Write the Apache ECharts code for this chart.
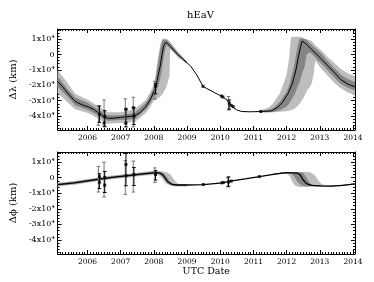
<!DOCTYPE html>
<html><head><meta charset="utf-8">
<script src="https://cdn.jsdelivr.net/npm/echarts@6/dist/echarts.min.js"></script>
<style>html,body{margin:0;padding:0;background:#fff}#c{width:374px;height:282px}</style>
</head><body><div id="c"></div>
<script>
// ---- axis ticks / labels ----
const yearTicks = [2006, 2007, 2008, 2009, 2010, 2011, 2012, 2013, 2014];
const yTicks = [-4, -3, -2, -1, 0, 1];          // units of 10^4 km
const X_MIN = 2005.1, X_MAX = 2014.06;
const Y_MIN = -4.9, Y_MAX = 1.65;

// ---- top panel (Δλ, 10^4 km) : central curve ----
const topLineX = [2005.10,2005.25,2005.40,2005.63,2005.85,2006.02,2006.20,2006.31,2006.45,2006.60,2006.80,2007.00,2007.20,2007.42,2007.60,2007.76,2007.90,2008.05,2008.19,2008.29,2008.37,2008.50,2008.72,2008.90,2009.11,2009.30,2009.48,2009.80,2010.06,2010.20,2010.35,2010.50,2010.64,2010.90,2011.22,2011.40,2011.55,2011.75,2011.89,2012.05,2012.18,2012.28,2012.36,2012.42,2012.47,2012.60,2012.86,2013.05,2013.25,2013.45,2013.63,2013.85,2014.06];
const topLineY = [-1.75,-2.10,-2.50,-3.05,-3.28,-3.40,-3.58,-3.77,-3.98,-4.14,-4.13,-4.08,-4.03,-3.99,-3.75,-3.38,-2.90,-2.18,-0.76,0.54,0.80,0.52,0.00,-0.35,-0.76,-1.35,-2.07,-2.45,-2.73,-2.95,-3.38,-3.60,-3.70,-3.72,-3.70,-3.68,-3.66,-3.40,-3.05,-2.50,-1.85,-1.00,-0.10,0.50,0.87,0.65,0.10,-0.30,-0.76,-1.20,-1.63,-1.93,-2.10];

// ---- top panel bands, segment A (2005-2009) ----
const topBandAX   = [2005.10,2005.40,2005.63,2006.02,2006.31,2006.60,2007.00,2007.42,2007.76,2007.90,2008.00,2008.05,2008.12,2008.19,2008.25,2008.29,2008.33,2008.37,2008.40,2008.45,2008.47,2008.49,2008.55,2008.72,2009.00];
const topLightHiA = [-1.00,-1.85,-2.55,-2.95,-3.35,-3.75,-3.75,-3.55,-2.95,-2.40,-1.90,-1.40,-0.30,0.60,1.00,1.02,1.02,1.02,0.98,0.90,0.85,0.82,0.65,0.20,-0.45];
const topLightLoA = [-2.50,-3.10,-3.55,-3.80,-4.15,-4.50,-4.45,-4.40,-3.80,-3.35,-3.00,-2.95,-2.85,-2.75,-2.60,-2.45,-2.30,-2.15,-1.95,-1.55,-1.40,0.30,0.25,-0.20,-0.60];
const topDarkHiA  = [-1.40,-2.25,-2.80,-3.15,-3.55,-3.95,-3.95,-3.78,-3.15,-2.65,-2.15,-1.60,-0.60,0.30,0.85,0.95,0.95,0.95,0.92,0.80,0.76,0.72,0.55,0.10,-0.47];
const topDarkLoA  = [-2.10,-2.75,-3.30,-3.60,-3.95,-4.30,-4.25,-4.20,-3.55,-3.15,-2.75,-2.60,-2.10,-1.60,-0.90,-0.30,0.20,0.55,0.60,0.45,0.43,0.40,0.25,-0.10,-0.57];

// ---- top panel bands, segment B (2011-2014) ----
const topBandBX   = [2011.20,2011.45,2011.60,2011.80,2011.99,2012.07,2012.13,2012.20,2012.25,2012.33,2012.39,2012.47,2012.55,2012.60,2012.70,2012.76,2012.82,2012.86,2013.05,2013.25,2013.44,2013.63,2013.83,2014.06];
const topLightHiB = [-3.62,-3.45,-3.15,-2.50,-1.40,-0.35,1.10,1.15,1.15,1.15,1.15,1.10,1.02,0.98,0.92,0.87,0.70,0.60,0.25,-0.20,-0.55,-0.95,-1.20,-1.42];
const topLightLoB = [-3.78,-3.78,-3.75,-3.72,-3.68,-3.65,-3.62,-3.55,-3.50,-3.35,-3.20,-2.95,-2.65,-2.40,-2.10,-1.85,-1.20,-0.40,-0.95,-1.40,-1.85,-2.20,-2.45,-2.65];
const topDarkHiB  = [-3.66,-3.58,-3.45,-3.05,-2.45,-2.05,-1.55,-0.95,-0.45,0.55,1.00,1.05,1.00,0.95,0.75,0.62,0.50,0.42,0.05,-0.45,-0.90,-1.30,-1.58,-1.78];
const topDarkLoB  = [-3.74,-3.74,-3.72,-3.62,-3.40,-3.20,-3.00,-2.75,-2.55,-2.10,-1.80,-1.20,-0.75,0.00,0.15,0.05,-0.10,-0.20,-0.60,-1.05,-1.50,-1.90,-2.15,-2.35];

// ---- top panel measurements: [year, value, low, high] ----
const topBarsGray  = [[2006.33,-3.90,-4.60,-3.33],[2006.50,-3.90,-4.65,-2.95],[2007.14,-3.60,-4.50,-2.88],[2007.38,-3.46,-4.70,-2.78],[2008.03,-2.20,-2.90,-1.75],[2010.25,-3.16,-3.60,-2.73]];
const topBarsBlack = [[2006.36,-3.88,-4.40,-3.35],[2006.52,-4.10,-4.69,-3.65],[2007.16,-4.40,-4.70,-3.55],[2007.40,-3.99,-4.55,-3.45],[2008.05,-2.07,-2.55,-1.90],[2010.27,-3.30,-3.55,-2.95]];
const topPointsX = [2006.36,2006.52,2006.50,2007.16,2007.16,2007.40,2007.38,2008.05,2009.48,2010.04,2010.08,2010.27,2010.33,2010.39,2011.22];
const topPointsY = [-3.88,-4.03,-4.45,-3.55,-4.45,-3.99,-3.46,-2.07,-2.07,-2.70,-2.76,-3.16,-3.30,-3.38,-3.70];

// ---- bottom panel (Δϕ, 10^4 km) : central curve ----
const botLineX = [2005.10,2005.60,2006.00,2006.36,2006.80,2007.16,2007.60,2008.05,2008.18,2008.27,2008.35,2008.43,2008.55,2008.70,2009.00,2009.49,2010.07,2010.30,2010.80,2011.18,2011.60,2012.00,2012.34,2012.42,2012.50,2012.60,2012.75,2013.00,2013.35,2013.70,2014.06];
const botLineY = [-0.44,-0.33,-0.20,-0.09,0.04,0.12,0.23,0.33,0.30,0.18,-0.05,-0.28,-0.43,-0.47,-0.47,-0.44,-0.33,-0.22,-0.06,0.07,0.22,0.32,0.29,0.15,-0.15,-0.38,-0.49,-0.53,-0.54,-0.49,-0.40];

// ---- bottom panel bands, segment A ----
const botBandAX   = [2005.10,2005.60,2006.00,2006.36,2006.80,2007.16,2007.60,2008.05,2008.18,2008.27,2008.35,2008.43,2008.50,2008.55,2008.65,2008.72,2008.80,2009.00];
const botLightHiA = [-0.32,-0.21,-0.08,0.03,0.16,0.24,0.35,0.45,0.43,0.40,0.36,0.30,0.20,0.05,-0.25,-0.38,-0.42,-0.42];
const botLightLoA = [-0.56,-0.45,-0.32,-0.21,-0.08,0.00,0.11,0.21,0.12,-0.10,-0.35,-0.45,-0.50,-0.54,-0.56,-0.57,-0.57,-0.57];
const botDarkHiA  = [-0.37,-0.26,-0.13,-0.02,0.11,0.19,0.30,0.40,0.37,0.30,0.15,-0.10,-0.28,-0.36,-0.41,-0.42,-0.42,-0.42];
const botDarkLoA  = [-0.51,-0.40,-0.27,-0.16,-0.03,0.05,0.16,0.26,0.22,0.05,-0.22,-0.38,-0.45,-0.50,-0.52,-0.52,-0.52,-0.52];

// ---- bottom panel bands, segment B ----
const botBandBX   = [2011.80,2012.00,2012.10,2012.18,2012.25,2012.34,2012.42,2012.50,2012.55,2012.60,2012.70,2012.75,2012.85,2012.95,2013.05,2013.15,2013.35,2014.06];
const botLightHiB = [0.34,0.37,0.37,0.37,0.37,0.37,0.37,0.37,0.37,0.37,0.35,0.32,0.15,-0.15,-0.40,-0.48,-0.50,-0.37];
const botLightLoB = [0.24,0.27,0.10,-0.30,-0.50,-0.58,-0.60,-0.60,-0.60,-0.60,-0.58,-0.57,-0.57,-0.57,-0.57,-0.57,-0.58,-0.44];
const botDarkHiB  = [0.32,0.35,0.35,0.35,0.35,0.35,0.35,0.30,0.15,0.00,-0.35,-0.42,-0.47,-0.49,-0.50,-0.51,-0.52,-0.38];
const botDarkLoB  = [0.26,0.29,0.28,0.20,0.00,-0.30,-0.45,-0.52,-0.54,-0.55,-0.55,-0.55,-0.55,-0.55,-0.56,-0.56,-0.56,-0.42];

// ---- bottom panel measurements: [year, value, low, high] ----
const botBarsGray  = [[2006.33,0.07,-0.92,0.72],[2006.50,0.02,-1.24,1.00],[2007.14,0.13,-1.07,1.10],[2007.38,0.15,-0.92,1.07],[2008.03,0.20,-0.30,0.63],[2010.23,-0.30,-0.59,0.00]];
const botBarsBlack = [[2006.36,-0.30,-0.70,0.25],[2006.52,-0.48,-0.95,0.40],[2007.16,0.85,-0.52,1.55],[2007.40,0.10,-0.50,0.65],[2008.05,0.20,-0.15,0.45],[2010.25,-0.25,-0.55,0.05]];
const botPointsX = [2006.36,2006.36,2006.52,2006.52,2007.16,2007.16,2007.40,2008.05,2009.49,2010.05,2010.09,2010.25,2010.33,2011.18];
const botPointsY = [0.07,-0.30,0.02,-0.48,0.85,0.13,0.20,0.20,-0.44,-0.33,-0.31,-0.28,-0.22,0.07];

// ================= rendering =================
const FONT = 'DejaVu Serif';
const LIGHT = '#bdbdbd', DARK = '#858585';
const minorX = []; for (let y = 2005; y < 2015; y++) for (let m = 1; m < 12; m++) { const v = y + m / 12; if (v > X_MIN && v < X_MAX) minorX.push(v); }
const minorY = []; for (let v = -48; v <= 16; v += 2) if (v % 10 !== 0) minorY.push(v / 10);

function xAxesFor(gi, name) {
  const base = { type: 'value', gridIndex: gi, min: X_MIN, max: X_MAX, splitLine: { show: false } };
  return [
    Object.assign({}, base, { position: 'bottom',
      axisLine: { show: true, onZero: false, lineStyle: { color: '#000', width: 1 } },
      axisTick: { show: true, inside: true, length: 4, customValues: yearTicks, lineStyle: { color: '#000' } },
      axisLabel: { show: true, customValues: yearTicks, formatter: v => String(Math.round(v)), fontSize: 7.5, fontFamily: FONT, color: '#000', margin: 4 },
      name: name, nameLocation: 'middle', nameGap: 12, nameTextStyle: { fontSize: 9.5, fontFamily: FONT, color: '#000' } }),
    Object.assign({}, base, { position: 'top',
      axisLine: { show: true, onZero: false, lineStyle: { color: '#000', width: 1 } },
      axisTick: { show: true, inside: true, length: 4, customValues: yearTicks, lineStyle: { color: '#000' } },
      axisLabel: { show: false } }),
    Object.assign({}, base, { position: 'bottom', axisLine: { show: false, onZero: false },
      axisTick: { show: true, inside: true, length: 2, customValues: minorX, lineStyle: { color: '#000' } }, axisLabel: { show: false } }),
    Object.assign({}, base, { position: 'top', axisLine: { show: false, onZero: false },
      axisTick: { show: true, inside: true, length: 2, customValues: minorX, lineStyle: { color: '#000' } }, axisLabel: { show: false } })
  ];
}
function yAxesFor(gi, name) {
  const base = { type: 'value', gridIndex: gi, min: Y_MIN, max: Y_MAX, splitLine: { show: false } };
  return [
    Object.assign({}, base, { position: 'left',
      axisLine: { show: true, onZero: false, lineStyle: { color: '#000', width: 1 } },
      axisTick: { show: true, inside: true, length: 4, customValues: yTicks, lineStyle: { color: '#000' } },
      axisLabel: { show: true, customValues: yTicks, formatter: v => (Math.abs(v) < 1e-9 ? '0' : Math.round(v) + 'x10\u2074'), fontSize: 8, fontFamily: FONT, color: '#000', margin: 3 },
      name: name, nameLocation: 'middle', nameRotate: 90, nameGap: 29, nameTextStyle: { fontSize: 10, fontFamily: FONT, color: '#000' } }),
    Object.assign({}, base, { position: 'right',
      axisLine: { show: true, onZero: false, lineStyle: { color: '#000', width: 1 } },
      axisTick: { show: true, inside: true, length: 4, customValues: yTicks, lineStyle: { color: '#000' } },
      axisLabel: { show: false } }),
    Object.assign({}, base, { position: 'left', axisLine: { show: false, onZero: false },
      axisTick: { show: true, inside: true, length: 2, customValues: minorY, lineStyle: { color: '#000' } }, axisLabel: { show: false } }),
    Object.assign({}, base, { position: 'right', axisLine: { show: false, onZero: false },
      axisTick: { show: true, inside: true, length: 2, customValues: minorY, lineStyle: { color: '#000' } }, axisLabel: { show: false } })
  ];
}

function band(ai, xs, hi, lo, color) {
  return { type: 'custom', xAxisIndex: ai, yAxisIndex: ai, clip: true, silent: true, z: 1,
    data: [[xs[0], hi[0]]], encode: { x: 0, y: 1 },
    renderItem: function (params, api) {
      const pts = [];
      for (let i = 0; i < xs.length; i++) pts.push(api.coord([xs[i], hi[i]]));
      for (let i = xs.length - 1; i >= 0; i--) pts.push(api.coord([xs[i], lo[i]]));
      return { type: 'polygon', shape: { points: pts }, style: { fill: color, stroke: null } };
    } };
}
function bars(ai, data, color) {
  return { type: 'custom', xAxisIndex: ai, yAxisIndex: ai, clip: true, silent: true, z: 3,
    data: data.map(d => [d[0], d[2], d[3]]), encode: { x: 0, y: [1, 2] },
    renderItem: function (params, api) {
      const x = api.value(0);
      const a = api.coord([x, api.value(2)]), b = api.coord([x, api.value(1)]);
      const c = 1.8, st = { stroke: color, lineWidth: 1 };
      return { type: 'group', children: [
        { type: 'line', shape: { x1: a[0], y1: a[1], x2: b[0], y2: b[1] }, style: st },
        { type: 'line', shape: { x1: a[0] - c, y1: a[1], x2: a[0] + c, y2: a[1] }, style: st },
        { type: 'line', shape: { x1: b[0] - c, y1: b[1], x2: b[0] + c, y2: b[1] }, style: st } ] };
    } };
}
function line(ai, xs, ys, w) {
  return { type: 'line', xAxisIndex: ai, yAxisIndex: ai, data: xs.map((x, i) => [x, ys[i]]), showSymbol: false, silent: true,
    lineStyle: { color: '#000', width: w }, z: 2, clip: true };
}
function points(ai, xs, ys) {
  return { type: 'scatter', xAxisIndex: ai, yAxisIndex: ai, data: xs.map((x, i) => [x, ys[i]]), symbol: 'rect', symbolSize: 3,
    itemStyle: { color: '#000' }, silent: true, z: 4 };
}

const T = 0, B = 4; // first axis index of each panel
const option = {
  animation: false,
  backgroundColor: '#fff',
  grid: [
    { left: 46, top: 29, width: 309, height: 101 },
    { left: 46, top: 152, width: 309, height: 102 }
  ],
  xAxis: xAxesFor(0, '').concat(xAxesFor(1, 'UTC Date')),
  yAxis: yAxesFor(0, '\u0394\u03bb (km)').concat(yAxesFor(1, '\u0394\u03d5 (km)')),
  graphic: [{ type: 'text', x: 200.5, y: 15, style: { text: 'hEaV', font: '10px "DejaVu Serif"', fill: '#000', align: 'center', verticalAlign: 'middle' } }],
  series: [
    band(T, topBandAX, topLightHiA, topLightLoA, LIGHT),
    band(T, topBandBX, topLightHiB, topLightLoB, LIGHT),
    band(T, topBandAX, topDarkHiA, topDarkLoA, DARK),
    band(T, topBandBX, topDarkHiB, topDarkLoB, DARK),
    line(T, topLineX, topLineY, 1),
    bars(T, topBarsGray, '#777'),
    bars(T, topBarsBlack, '#000'),
    points(T, topPointsX, topPointsY),
    band(B, botBandAX, botLightHiA, botLightLoA, LIGHT),
    band(B, botBandBX, botLightHiB, botLightLoB, LIGHT),
    band(B, botBandAX, botDarkHiA, botDarkLoA, DARK),
    band(B, botBandBX, botDarkHiB, botDarkLoB, DARK),
    line(B, botLineX, botLineY, 1.3),
    bars(B, botBarsGray, '#777'),
    bars(B, botBarsBlack, '#000'),
    points(B, botPointsX, botPointsY)
  ]
};
const chart = echarts.init(document.getElementById('c'), null, { renderer: 'canvas' });
chart.setOption(option);
</script></body></html>
